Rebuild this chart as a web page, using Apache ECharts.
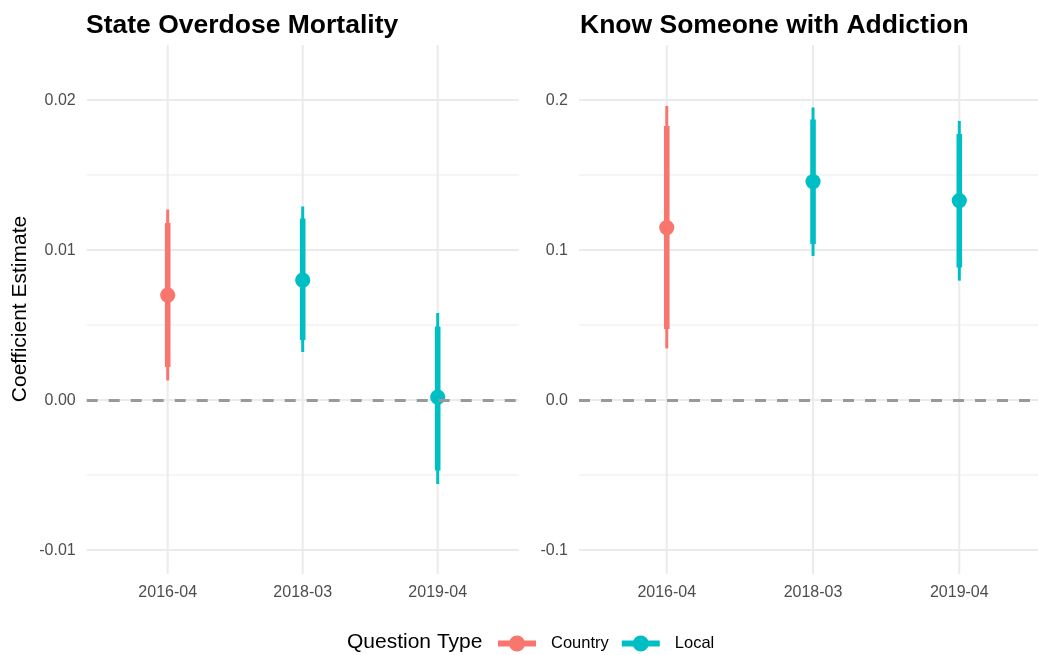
<!DOCTYPE html>
<html>
<head>
<meta charset="utf-8">
<script src="https://cdn.jsdelivr.net/npm/echarts@6/dist/echarts.min.js"></script>
<style>
  html, body { margin: 0; padding: 0; background: #fff; }
  #chart { width: 1038px; height: 655px; }
</style>
</head>
<body>
<div id="chart"></div>
<script>
// Survey waves on the x axis and the question type asked in each wave
const categories = ['2016-04', '2018-03', '2019-04'];
const questionType = ['Country', 'Local', 'Local'];

// Panel 1: state overdose mortality coefficients (estimate, 95% and 90% intervals)
const mortalityEstimate = [0.0070, 0.0080, 0.0002];
const mortalityLow95 = [0.0013, 0.0032, -0.0056];
const mortalityHigh95 = [0.0127, 0.0129, 0.0058];
const mortalityLow90 = [0.0022, 0.0040, -0.0047];
const mortalityHigh90 = [0.0118, 0.0121, 0.0049];

// Panel 2: know someone with addiction coefficients
const addictionEstimate = [0.115, 0.1456, 0.133];
const addictionLow95 = [0.0344, 0.096, 0.0796];
const addictionHigh95 = [0.196, 0.195, 0.186];
const addictionLow90 = [0.0473, 0.104, 0.0884];
const addictionHigh90 = [0.1827, 0.187, 0.1773];

// Y tick values and their labels
const mortalityTicks = [-0.01, 0, 0.01, 0.02];
const mortalityTickLabels = ['-0.01', '0.00', '0.01', '0.02'];
const mortalityMinorTicks = [-0.005, 0.005, 0.015];
const addictionTicks = [-0.1, 0, 0.1, 0.2];
const addictionTickLabels = ['-0.1', '0.0', '0.1', '0.2'];
const addictionMinorTicks = [-0.05, 0.05, 0.15];

const typeColors = { Country: '#F8766D', Local: '#00BFC4' };
const FONT = '"Liberation Sans", Arial, Helvetica, sans-serif';
const GRID_COLOR = '#ebebeb';
const TICK_COLOR = '#4d4d4d';

const chart = echarts.init(document.getElementById('chart'), null, { renderer: 'canvas' });

function pointRangeData(type, est, lo95, hi95, lo90, hi90) {
  const out = [];
  categories.forEach((c, i) => {
    if (questionType[i] === type) out.push([i, est[i], lo95[i], hi95[i], lo90[i], hi90[i]]);
  });
  return out;
}

// vertical bar between two y pixels, drawn as a filled rect
function vBar(cx, yA, yB, w, color) {
  const top = Math.min(yA, yB);
  return { type: 'rect', shape: { x: cx - w / 2, y: top, width: w, height: Math.abs(yB - yA) },
           style: { fill: color } };
}

function renderPointRange(params, api) {
  const x = api.value(0);
  const center = api.coord([x, api.value(1)]);
  const lo95 = api.coord([x, api.value(2)]);
  const hi95 = api.coord([x, api.value(3)]);
  const lo90 = api.coord([x, api.value(4)]);
  const hi90 = api.coord([x, api.value(5)]);
  const color = api.visual('color');
  return {
    type: 'group',
    children: [
      vBar(center[0], lo95[1], hi95[1], 3, color),
      vBar(center[0], lo90[1], hi90[1], 5.6, color),
      { type: 'circle', shape: { cx: center[0], cy: center[1], r: 7.6 }, style: { fill: color } }
    ]
  };
}

// horizontal grid lines with y tick labels
function hGridSeries(idx, ticks, tickLabels, minorTicks) {
  const data = ticks.map(v => [0, v]).concat(minorTicks.map(v => [0, v]));
  return {
    type: 'custom', xAxisIndex: idx, yAxisIndex: idx, z: 1, silent: true, clip: false,
    data: data,
    renderItem(params, api) {
      const cs = params.coordSys;
      const y = api.coord([0, api.value(1)])[1];
      const major = params.dataIndex < ticks.length;
      const w = major ? 2 : 1;
      const children = [{ type: 'rect', shape: { x: cs.x, y: y - w / 2, width: cs.width, height: w },
                          style: { fill: GRID_COLOR } }];
      if (major) {
        children.push({ type: 'text', x: cs.x - 11, y: y + 1,
          style: { text: tickLabels[params.dataIndex], fill: TICK_COLOR, font: '16px ' + FONT,
                   align: 'right', verticalAlign: 'middle' } });
      }
      return { type: 'group', children };
    }
  };
}

// vertical grid lines with category labels
function vGridSeries(idx) {
  return {
    type: 'custom', xAxisIndex: idx, yAxisIndex: idx, z: 1, silent: true, clip: false,
    data: categories.map((c, i) => [i, 0]),
    renderItem(params, api) {
      const cs = params.coordSys;
      const x = api.coord([api.value(0), 0])[0];
      return { type: 'group', children: [
        { type: 'rect', shape: { x: x - 1, y: cs.y, width: 2, height: cs.height },
          style: { fill: GRID_COLOR } },
        { type: 'text', x: x, y: cs.y + cs.height + 18.5,
          style: { text: categories[params.dataIndex], fill: TICK_COLOR, font: '16px ' + FONT,
                   align: 'center', verticalAlign: 'middle' } }
      ] };
    }
  };
}

function zeroLineSeries(idx) {
  return {
    type: 'line', xAxisIndex: idx, yAxisIndex: idx, data: [], z: 5, silent: true,
    markLine: { symbol: 'none', silent: true, animation: false,
      emphasis: { disabled: true },
      data: [{ yAxis: 0, label: { show: false },
               lineStyle: { color: '#999999', width: 2.8, type: [11, 11] } }] }
  };
}

function pointSeries(idx, type, est, lo95, hi95, lo90, hi90) {
  return {
    type: 'custom', name: type, xAxisIndex: idx, yAxisIndex: idx, z: 3,
    itemStyle: { color: typeColors[type] },
    renderItem: renderPointRange,
    data: pointRangeData(type, est, lo95, hi95, lo90, hi90)
  };
}

const hiddenAxis = { axisLine: { show: false }, axisTick: { show: false },
                     axisLabel: { show: false }, splitLine: { show: false } };

const legendIcon = 'path://M0,5 L38,5 L38,11 L0,11 Z M19,0 A8,8 0 1,1 19,16 A8,8 0 1,1 19,0 Z';

const option = {
  animation: false,
  backgroundColor: '#ffffff',
  textStyle: { fontFamily: FONT },
  title: [
    { text: 'State Overdose Mortality', left: 81, top: 7,
      textStyle: { fontSize: 26.5, fontWeight: 'bold', color: '#000', fontFamily: FONT } },
    { text: 'Know Someone with Addiction', left: 575, top: 7,
      textStyle: { fontSize: 26.5, fontWeight: 'bold', color: '#000', fontFamily: FONT } }
  ],
  grid: [
    { left: 86.7, top: 45, width: 432, height: 529 },
    { left: 579, top: 45, right: 0, height: 529 }
  ],
  xAxis: [
    Object.assign({ type: 'value', gridIndex: 0, min: -0.6, max: 2.6 }, hiddenAxis),
    Object.assign({ type: 'value', gridIndex: 1, min: -0.6, max: 2.538 }, hiddenAxis)
  ],
  yAxis: [
    Object.assign({ type: 'value', gridIndex: 0, min: -0.0116, max: 0.023667 }, hiddenAxis),
    Object.assign({ type: 'value', gridIndex: 1, min: -0.116, max: 0.23667 }, hiddenAxis)
  ],
  legend: {
    left: 493, top: 630, itemWidth: 38, itemHeight: 16, itemGap: 13,
    icon: legendIcon, data: ['Country', 'Local'], selectedMode: false,
    textStyle: { fontSize: 16.5, color: '#000', fontFamily: FONT, padding: [0, 0, 0, 10] }
  },
  graphic: [
    { type: 'text', x: 20, y: 309, rotation: Math.PI / 2,
      style: { text: 'Coefficient Estimate', font: '21px ' + FONT, fill: '#000',
               textAlign: 'center', textVerticalAlign: 'middle' } },
    { type: 'text', x: 347, y: 642,
      style: { text: 'Question Type', font: '21px ' + FONT, fill: '#000',
               textAlign: 'left', textVerticalAlign: 'middle' } }
  ],
  series: [
    hGridSeries(0, mortalityTicks, mortalityTickLabels, mortalityMinorTicks),
    hGridSeries(1, addictionTicks, addictionTickLabels, addictionMinorTicks),
    vGridSeries(0),
    vGridSeries(1),
    pointSeries(0, 'Country', mortalityEstimate, mortalityLow95, mortalityHigh95, mortalityLow90, mortalityHigh90),
    pointSeries(0, 'Local', mortalityEstimate, mortalityLow95, mortalityHigh95, mortalityLow90, mortalityHigh90),
    pointSeries(1, 'Country', addictionEstimate, addictionLow95, addictionHigh95, addictionLow90, addictionHigh90),
    pointSeries(1, 'Local', addictionEstimate, addictionLow95, addictionHigh95, addictionLow90, addictionHigh90),
    zeroLineSeries(0),
    zeroLineSeries(1)
  ]
};

chart.setOption(option);
</script>
</body>
</html>
